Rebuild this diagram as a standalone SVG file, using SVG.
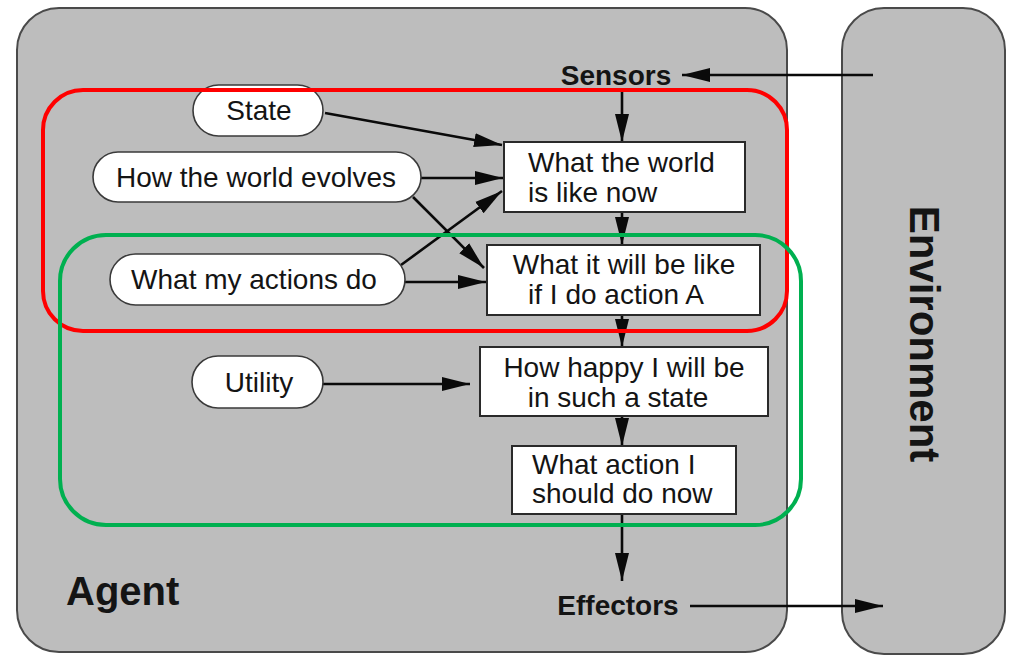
<svg xmlns="http://www.w3.org/2000/svg" width="1013" height="656" viewBox="0 0 1013 656">
  <style>
    .frame { fill: #bdbdbd; stroke: #4a4a4a; stroke-width: 2; }
    .pill { fill: #ffffff; stroke: #3a3a3a; stroke-width: 1.6; }
    .box { fill: #ffffff; stroke: #2a2a2a; stroke-width: 2; }
    .txt { font-family: "Liberation Sans", Arial, sans-serif; font-size: 28px; fill: #141414; }
    .bold { font-weight: bold; }
    .edge { stroke: #0a0a0a; stroke-width: 2.6; fill: none; marker-end: url(#arrow); }
    .red { fill: none; stroke: #ff0000; stroke-width: 4; }
    .green { fill: none; stroke: #00b050; stroke-width: 4; }
  </style>
  <defs>
    <marker id="arrow" markerUnits="userSpaceOnUse" markerWidth="30" markerHeight="16" refX="28" refY="7.5" orient="auto">
      <path d="M0,0.5 L28,7.5 L0,14.5 Z" fill="#0a0a0a"/>
    </marker>
  </defs>

  <rect width="1013" height="656" fill="#ffffff"/>

  <!-- Outer frames -->
  <g id="agent">
    <rect class="frame" x="17" y="8" width="770" height="644" rx="42" ry="42"/>
    <text class="txt bold" x="66" y="605" style="font-size:40px">Agent</text>
  </g>
  <g id="environment">
    <rect class="frame" x="842" y="8" width="163" height="646" rx="42" ry="42"/>
    <text class="txt bold" transform="translate(910,334) rotate(90)" text-anchor="middle" style="font-size:42px">Environment</text>
  </g>

  <!-- Connectors -->
  <g id="connectors">
    <line class="edge" x1="873" y1="75" x2="682" y2="75"/>
    <line class="edge" x1="622" y1="92" x2="622" y2="142"/>
    <line class="edge" x1="325" y1="113" x2="502" y2="145"/>
    <line class="edge" x1="421" y1="178" x2="503" y2="178"/>
    <line class="edge" x1="413" y1="197" x2="484" y2="268"/>
    <line class="edge" x1="401" y1="265" x2="502" y2="191"/>
    <line class="edge" x1="405" y1="282" x2="486" y2="282"/>
    <line class="edge" x1="622" y1="212" x2="622" y2="245"/>
    <line class="edge" x1="622" y1="315" x2="622" y2="347"/>
    <line class="edge" x1="323" y1="384" x2="470" y2="384"/>
    <line class="edge" x1="622" y1="416" x2="622" y2="446"/>
    <line class="edge" x1="622" y1="514" x2="622" y2="581"/>
    <line class="edge" x1="690" y1="606" x2="883" y2="606"/>
  </g>

  <!-- Agent nodes -->
  <g id="sensors">
    <text class="txt bold" x="616" y="85" text-anchor="middle">Sensors</text>
  </g>
  <g id="effectors">
    <text class="txt bold" x="618" y="615" text-anchor="middle">Effectors</text>
  </g>
  <g id="state">
    <rect class="pill" x="193" y="85" width="130" height="51" rx="25.5"/>
    <text class="txt" x="259" y="120" text-anchor="middle">State</text>
  </g>
  <g id="world-evolves">
    <rect class="pill" x="93" y="152" width="328" height="50" rx="25"/>
    <text class="txt" x="256" y="187" text-anchor="middle">How the world evolves</text>
  </g>
  <g id="actions-do">
    <rect class="pill" x="110" y="254" width="295" height="51" rx="25.5"/>
    <text class="txt" x="254" y="289" text-anchor="middle">What my actions do</text>
  </g>
  <g id="utility">
    <rect class="pill" x="192" y="356" width="131" height="52" rx="26"/>
    <text class="txt" x="259" y="392" text-anchor="middle">Utility</text>
  </g>
  <g id="world-now">
    <rect class="box" x="504" y="142" width="241" height="70"/>
    <text class="txt" x="528" y="172">What the world</text>
    <text class="txt" x="528" y="202">is like now</text>
  </g>
  <g id="action-a">
    <rect class="box" x="487" y="245" width="273" height="70"/>
    <text class="txt" x="624" y="274" text-anchor="middle">What it will be like</text>
    <text class="txt" x="616" y="304" text-anchor="middle">if I do action A</text>
  </g>
  <g id="how-happy">
    <rect class="box" x="480" y="347" width="288" height="69"/>
    <text class="txt" x="624" y="377" text-anchor="middle">How happy I will be</text>
    <text class="txt" x="618" y="407" text-anchor="middle">in such a state</text>
  </g>
  <g id="what-action">
    <rect class="box" x="512" y="446" width="224" height="68"/>
    <text class="txt" x="532" y="474">What action I</text>
    <text class="txt" x="532" y="503">should do now</text>
  </g>

  <!-- Highlight outlines -->
  <g id="highlights">
    <rect class="red" x="43" y="90" width="744" height="241" rx="40"/>
    <rect class="green" x="60" y="235" width="741" height="290" rx="46"/>
  </g>
</svg>
